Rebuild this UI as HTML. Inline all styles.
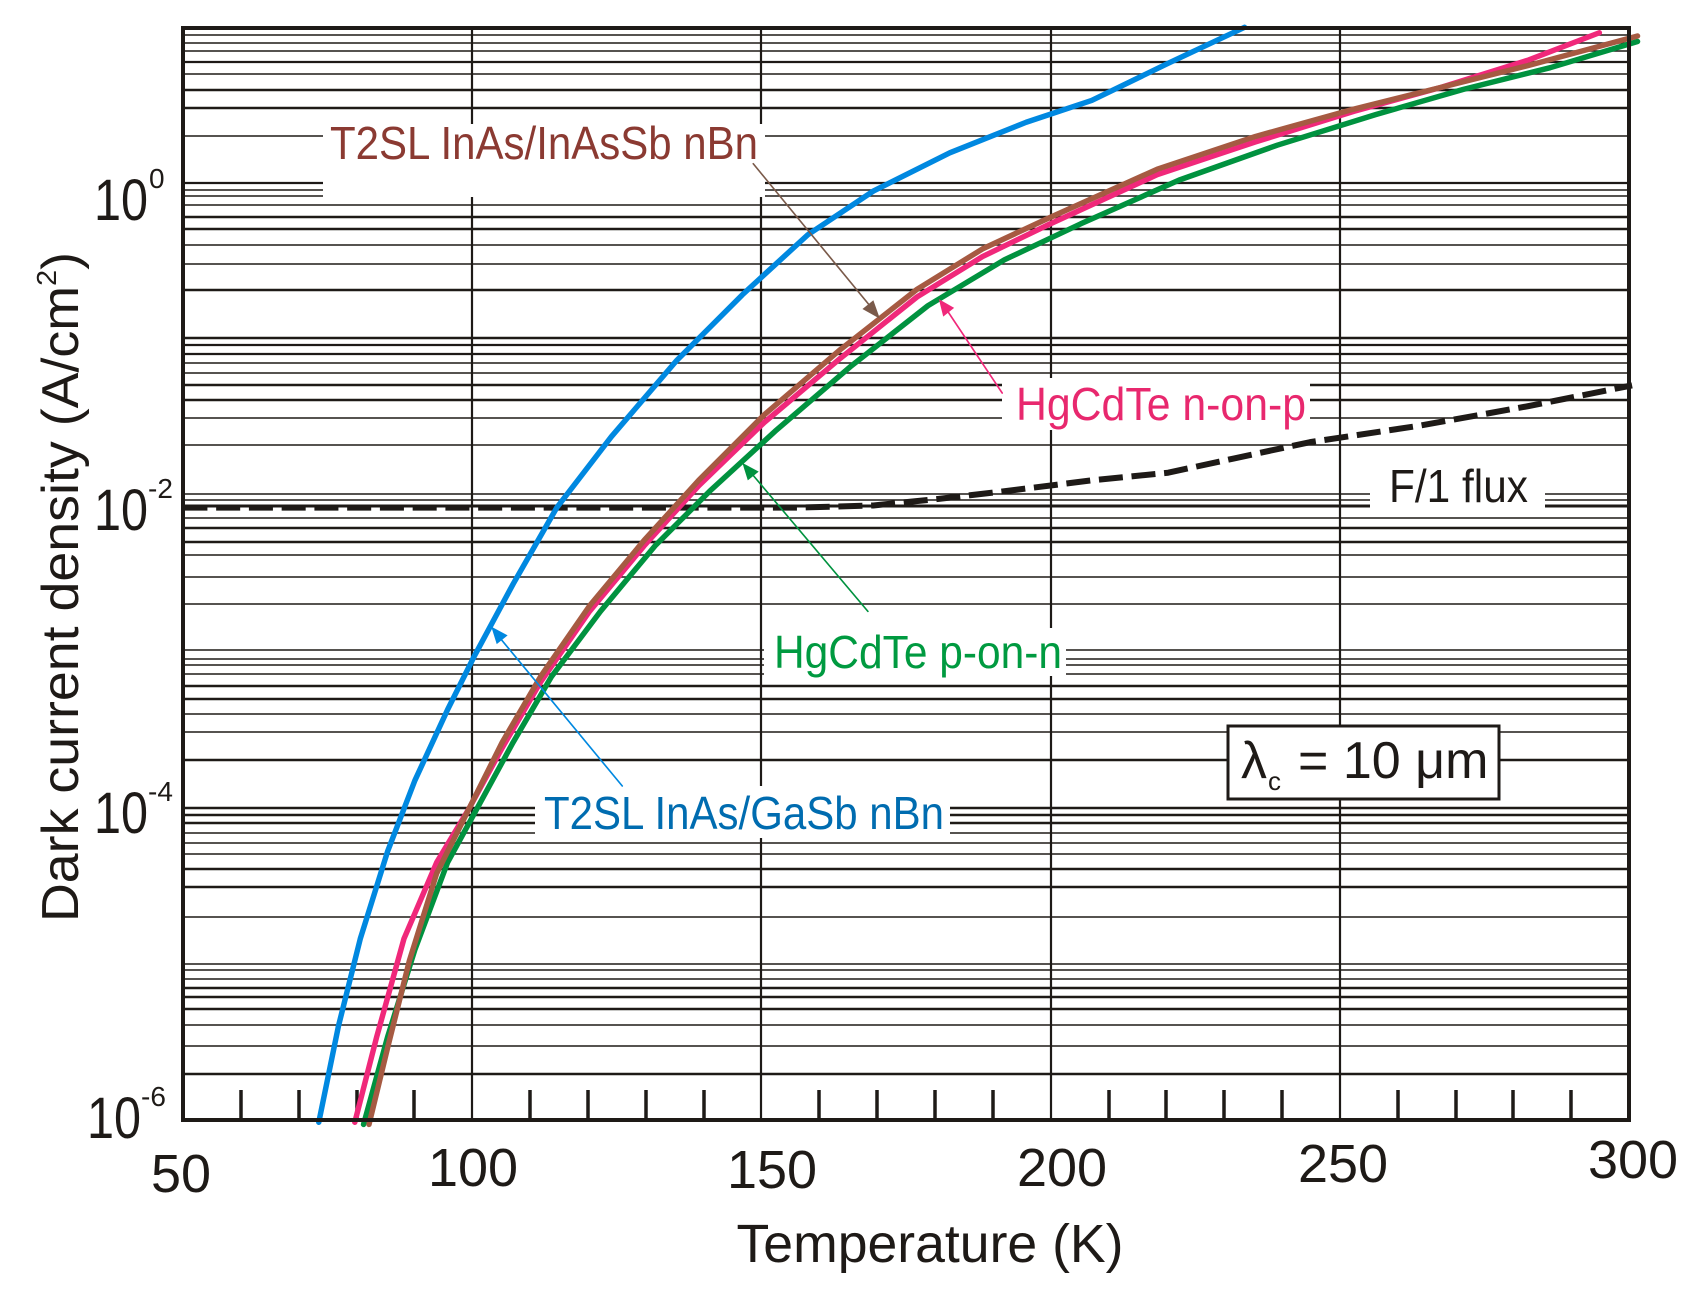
<!DOCTYPE html>
<html><head><meta charset="utf-8"><style>html,body{margin:0;padding:0;background:#fff}svg{display:block}</style></head>
<body>
<svg width="1703" height="1295" viewBox="0 0 1703 1295" xmlns="http://www.w3.org/2000/svg" font-family="Liberation Sans, Arial, sans-serif">
<rect width="1703" height="1295" fill="#fff"/>
<g stroke="#1e1a17">
<line x1="183" x2="1629" y1="35" y2="35" stroke-width="1.5"/>
<line x1="183" x2="1629" y1="43" y2="43" stroke-width="1.5"/>
<line x1="183" x2="1629" y1="51" y2="51" stroke-width="1.5"/>
<line x1="183" x2="1629" y1="62" y2="62" stroke-width="2.2"/>
<line x1="183" x2="1629" y1="74" y2="74" stroke-width="1.5"/>
<line x1="183" x2="1629" y1="90" y2="90" stroke-width="2.5"/>
<line x1="183" x2="1629" y1="108" y2="108" stroke-width="2.5"/>
<line x1="183" x2="1629" y1="136" y2="136" stroke-width="1.5"/>
<line x1="183" x2="1629" y1="183" y2="183" stroke-width="2.2"/>
<line x1="183" x2="1629" y1="190" y2="190" stroke-width="1.5"/>
<line x1="183" x2="1629" y1="196" y2="196" stroke-width="1.5"/>
<line x1="183" x2="1629" y1="205" y2="205" stroke-width="1.5"/>
<line x1="183" x2="1629" y1="217" y2="217" stroke-width="2.5"/>
<line x1="183" x2="1629" y1="229" y2="229" stroke-width="2.5"/>
<line x1="183" x2="1629" y1="245" y2="245" stroke-width="1.5"/>
<line x1="183" x2="1629" y1="264" y2="264" stroke-width="1.5"/>
<line x1="183" x2="1629" y1="290" y2="290" stroke-width="2.5"/>
<line x1="183" x2="1629" y1="338" y2="338" stroke-width="2.5"/>
<line x1="183" x2="1629" y1="345" y2="345" stroke-width="2.2"/>
<line x1="183" x2="1629" y1="354" y2="354" stroke-width="2.2"/>
<line x1="183" x2="1629" y1="363" y2="363" stroke-width="1.5"/>
<line x1="183" x2="1629" y1="373" y2="373" stroke-width="1.5"/>
<line x1="183" x2="1629" y1="385" y2="385" stroke-width="2.5"/>
<line x1="183" x2="1629" y1="400" y2="400" stroke-width="2.5"/>
<line x1="183" x2="1629" y1="418" y2="418" stroke-width="1.5"/>
<line x1="183" x2="1629" y1="445" y2="445" stroke-width="1.5"/>
<line x1="183" x2="1629" y1="494" y2="494" stroke-width="1.5"/>
<line x1="183" x2="1629" y1="500" y2="500" stroke-width="1.5"/>
<line x1="183" x2="1629" y1="506" y2="506" stroke-width="3"/>
<line x1="183" x2="1629" y1="518" y2="518" stroke-width="1.5"/>
<line x1="183" x2="1629" y1="528" y2="528" stroke-width="2.5"/>
<line x1="183" x2="1629" y1="542" y2="542" stroke-width="2.5"/>
<line x1="183" x2="1629" y1="555" y2="555" stroke-width="1.5"/>
<line x1="183" x2="1629" y1="577" y2="577" stroke-width="1.5"/>
<line x1="183" x2="1629" y1="604" y2="604" stroke-width="1.5"/>
<line x1="183" x2="1629" y1="650" y2="650" stroke-width="1.5"/>
<line x1="183" x2="1629" y1="659" y2="659" stroke-width="1.5"/>
<line x1="183" x2="1629" y1="665" y2="665" stroke-width="1.5"/>
<line x1="183" x2="1629" y1="674" y2="674" stroke-width="1.5"/>
<line x1="183" x2="1629" y1="686" y2="686" stroke-width="2.5"/>
<line x1="183" x2="1629" y1="699" y2="699" stroke-width="2.5"/>
<line x1="183" x2="1629" y1="714" y2="714" stroke-width="1.5"/>
<line x1="183" x2="1629" y1="732" y2="732" stroke-width="1.5"/>
<line x1="183" x2="1629" y1="760" y2="760" stroke-width="2.5"/>
<line x1="183" x2="1629" y1="808" y2="808" stroke-width="2.5"/>
<line x1="183" x2="1629" y1="815" y2="815" stroke-width="2.5"/>
<line x1="183" x2="1629" y1="823" y2="823" stroke-width="2.5"/>
<line x1="183" x2="1629" y1="833" y2="833" stroke-width="1.5"/>
<line x1="183" x2="1629" y1="843" y2="843" stroke-width="1.5"/>
<line x1="183" x2="1629" y1="854" y2="854" stroke-width="1.5"/>
<line x1="183" x2="1629" y1="869" y2="869" stroke-width="2.5"/>
<line x1="183" x2="1629" y1="887" y2="887" stroke-width="2.5"/>
<line x1="183" x2="1629" y1="917" y2="917" stroke-width="1.5"/>
<line x1="183" x2="1629" y1="964" y2="964" stroke-width="1.5"/>
<line x1="183" x2="1629" y1="970" y2="970" stroke-width="1.5"/>
<line x1="183" x2="1629" y1="979" y2="979" stroke-width="1.5"/>
<line x1="183" x2="1629" y1="988" y2="988" stroke-width="2.5"/>
<line x1="183" x2="1629" y1="997" y2="997" stroke-width="2.5"/>
<line x1="183" x2="1629" y1="1009" y2="1009" stroke-width="2.5"/>
<line x1="183" x2="1629" y1="1025" y2="1025" stroke-width="1.5"/>
<line x1="183" x2="1629" y1="1046" y2="1046" stroke-width="1.5"/>
<line x1="183" x2="1629" y1="1074" y2="1074" stroke-width="2.5"/>
<line x1="472" x2="472" y1="28" y2="1120" stroke-width="2.2"/>
<line x1="761" x2="761" y1="28" y2="1120" stroke-width="2.2"/>
<line x1="1051" x2="1051" y1="28" y2="1120" stroke-width="2.2"/>
<line x1="1340" x2="1340" y1="28" y2="1120" stroke-width="2.2"/>
<g stroke-width="3.5">
<line x1="241" x2="241" y1="1090" y2="1120"/><line x1="299" x2="299" y1="1090" y2="1120"/><line x1="357" x2="357" y1="1090" y2="1120"/><line x1="414" x2="414" y1="1090" y2="1120"/>
<line x1="530" x2="530" y1="1090" y2="1120"/><line x1="588" x2="588" y1="1090" y2="1120"/><line x1="646" x2="646" y1="1090" y2="1120"/><line x1="704" x2="704" y1="1090" y2="1120"/>
<line x1="819" x2="819" y1="1090" y2="1120"/><line x1="877" x2="877" y1="1090" y2="1120"/><line x1="935" x2="935" y1="1090" y2="1120"/><line x1="993" x2="993" y1="1090" y2="1120"/>
<line x1="1109" x2="1109" y1="1090" y2="1120"/><line x1="1166" x2="1166" y1="1090" y2="1120"/><line x1="1224" x2="1224" y1="1090" y2="1120"/><line x1="1282" x2="1282" y1="1090" y2="1120"/>
<line x1="1398" x2="1398" y1="1090" y2="1120"/><line x1="1456" x2="1456" y1="1090" y2="1120"/><line x1="1513" x2="1513" y1="1090" y2="1120"/><line x1="1571" x2="1571" y1="1090" y2="1120"/>
</g>
</g>
<g fill="#fff">
<rect x="323" y="124" width="442" height="73"/>
<rect x="1002" y="378" width="308" height="52"/>
<rect x="1370" y="463" width="175" height="48"/>
<rect x="764" y="628" width="302" height="48"/>
<rect x="535" y="786" width="415" height="52"/>
</g>
<g transform="scale(1.0917)" fill="none" stroke-linejoin="round" stroke-linecap="round">
<polyline stroke="#1e1a17" stroke-width="5.5" stroke-linecap="butt" stroke-dasharray="22,8" points="168,465 730,465 800,463 860,457 920,450 1000,440 1070,433 1130,420 1200,405 1300,390 1400,372 1495,353"/>
<polyline stroke="#0088e0" stroke-width="5" points="292,1028 310,940 330,860 355,780 380,715 410,650 435,600 470,535 510,465 560,400 620,330 680,270 740,215 800,175 870,140 940,112 1000,92 1070,58 1140,25"/>
<polyline stroke="#f0287a" stroke-width="5" points="325,1028 345,950 370,860 400,790 430,740 460,685 495,625 540,560 590,500 640,445 700,387 770,328 840,272 900,235 960,206 1060,160 1150,130 1240,102 1320,80 1400,55 1465,30"/>
<polyline stroke="#00923f" stroke-width="5" points="333,1030 355,950 380,870 410,790 440,735 470,680 505,620 550,560 600,500 650,450 710,395 780,335 850,280 920,238 990,205 1080,165 1170,133 1260,105 1340,82 1420,62 1500,38"/>
<polyline stroke="#a65a42" stroke-width="5" points="338,1030 355,960 375,880 400,800 430,740 460,680 495,620 540,555 590,495 640,440 700,380 770,320 840,265 900,228 960,200 1060,155 1150,125 1240,100 1320,80 1400,60 1500,33"/>
<line x1="690" y1="150" x2="800" y2="284" stroke="#7a5a4a" stroke-width="1.5"/>
<polygon points="806,292 790,283 800,275" fill="#7a5a4a" stroke="none"/>
<line x1="918" y1="360" x2="866" y2="282" stroke="#f0287a" stroke-width="1.5"/>
<polygon points="860,274 874,282 864,290" fill="#f0287a" stroke="none"/>
<line x1="795" y1="560" x2="687" y2="432" stroke="#00923f" stroke-width="1.5"/>
<polygon points="680,424 695,432 685,440" fill="#00923f" stroke="none"/>
<line x1="570" y1="720" x2="456" y2="582" stroke="#0088e0" stroke-width="1.5"/>
<polygon points="450,574 465,582 455,590" fill="#0088e0" stroke="none"/>
</g>
<rect x="183" y="28" width="1446" height="1092" fill="none" stroke="#1e1a17" stroke-width="4"/>
<g font-size="46">
<text x="330" y="159" fill="#8b3a32" textLength="428" lengthAdjust="spacingAndGlyphs">T2SL InAs/InAsSb nBn</text>
<text x="1016" y="420" fill="#e8286e" textLength="290" lengthAdjust="spacingAndGlyphs">HgCdTe n-on-p</text>
<text x="1389" y="502" fill="#1e1a17" textLength="139" lengthAdjust="spacingAndGlyphs">F/1 flux</text>
<text x="774" y="668" fill="#009a40" textLength="288" lengthAdjust="spacingAndGlyphs">HgCdTe p-on-n</text>
<text x="544" y="829" fill="#006cb0" textLength="400" lengthAdjust="spacingAndGlyphs">T2SL InAs/GaSb nBn</text>
</g>
<rect x="1228" y="726" width="271" height="73" fill="#fff" stroke="#1e1a17" stroke-width="3"/>
<text x="1241" y="778" font-size="52" fill="#1e1a17">λ</text>
<text x="1268" y="790" font-size="26" fill="#1e1a17">c</text>
<text x="1298" y="778" font-size="52" fill="#1e1a17">= 10 μm</text>
<g fill="#1e1a17">
<text x="94" y="220" font-size="58" textLength="54" lengthAdjust="spacingAndGlyphs">10</text><text x="149" y="188" font-size="28">0</text>
<text x="94" y="530" font-size="58" textLength="54" lengthAdjust="spacingAndGlyphs">10</text><text x="148" y="498" font-size="28">-2</text>
<text x="94" y="833" font-size="58" textLength="54" lengthAdjust="spacingAndGlyphs">10</text><text x="148" y="801" font-size="28">-4</text>
<text x="87" y="1138" font-size="58" textLength="54" lengthAdjust="spacingAndGlyphs">10</text><text x="141" y="1106" font-size="28">-6</text>
</g>
<g fill="#1e1a17" font-size="54" text-anchor="middle">
<text x="181" y="1192">50</text>
<text x="473" y="1186">100</text>
<text x="772" y="1188">150</text>
<text x="1062" y="1186">200</text>
<text x="1343" y="1182">250</text>
<text x="1633" y="1178">300</text>
</g>
<text x="930" y="1262" font-size="54" fill="#1e1a17" text-anchor="middle" textLength="387" lengthAdjust="spacingAndGlyphs">Temperature (K)</text>
<text transform="translate(78,587) rotate(-90)" font-size="52" fill="#1e1a17" text-anchor="middle" textLength="670" lengthAdjust="spacingAndGlyphs">Dark current density (A/cm<tspan font-size="28" dy="-22">2</tspan><tspan dy="22">)</tspan></text>
</svg>
</body></html>
